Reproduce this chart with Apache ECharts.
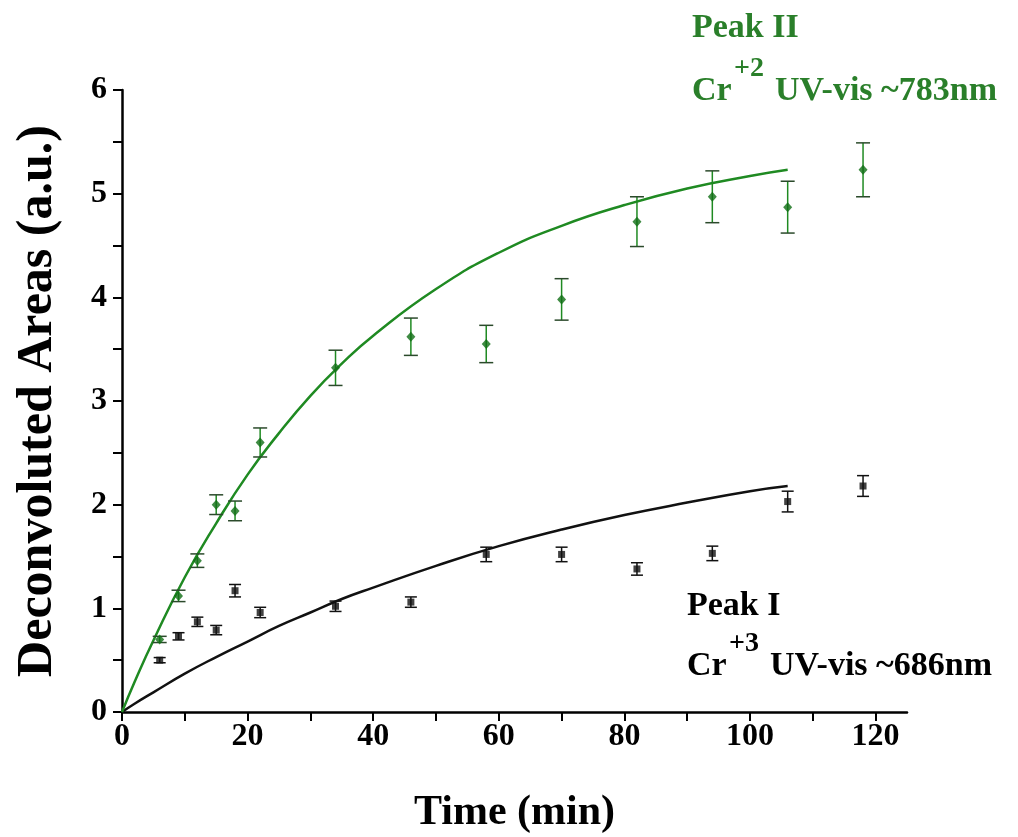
<!DOCTYPE html>
<html>
<head>
<meta charset="utf-8">
<script src="https://cdn.jsdelivr.net/npm/echarts@6/dist/echarts.min.js"></script>
<style>
html,body{margin:0;padding:0;background:#fff;}
#chart{width:1018px;height:837px;}
</style>
</head>
<body>
<div id="chart"></div>
<script>
// ---- data ----
var times = [6, 9, 12, 15, 18, 22, 34, 46, 58, 70, 82, 94, 106, 118];
var peakI = [0.50, 0.73, 0.87, 0.79, 1.17, 0.96, 1.02, 1.06, 1.52, 1.52, 1.38, 1.53, 2.03, 2.18];
var errI  = [0.025, 0.035, 0.045, 0.045, 0.06, 0.05, 0.05, 0.05, 0.07, 0.07, 0.06, 0.07, 0.10, 0.10];
var peakII = [0.70, 1.12, 1.46, 2.00, 1.94, 2.60, 3.32, 3.62, 3.55, 3.98, 4.73, 4.97, 4.87, 5.23];
var errII  = [0.03, 0.055, 0.065, 0.095, 0.095, 0.14, 0.17, 0.18, 0.18, 0.20, 0.24, 0.25, 0.25, 0.26];

var fitTimes = [0, 2, 5, 10, 15, 20, 25, 30, 35, 40, 50, 60, 70, 80, 90, 100, 106];
var fitI  = [0, 0.08, 0.19, 0.37, 0.53, 0.68, 0.83, 0.96, 1.09, 1.20, 1.41, 1.60, 1.76, 1.90, 2.02, 2.13, 2.18];
var fitII = [0, 0.29, 0.69, 1.30, 1.82, 2.29, 2.69, 3.05, 3.36, 3.63, 4.08, 4.43, 4.69, 4.89, 5.05, 5.17, 5.23];

var xLabelValues = [0, 20, 40, 60, 80, 100, 120];
var xTickValues = [0, 10, 20, 30, 40, 50, 60, 70, 80, 90, 100, 110, 120];
var yTickValues = [0, 0.5, 1, 1.5, 2, 2.5, 3, 3.5, 4, 4.5, 5, 5.5, 6];

var GREEN = '#1f8a22';
var GREEN_TXT = '#2a7f2a';
var BLACK = '#111111';
var FONT = '"Liberation Serif", "Times New Roman", serif';

function pairs(xs, ys) { return xs.map(function (x, i) { return [x, ys[i]]; }); }
function errData(xs, ys, es) { return xs.map(function (x, i) { return [x, ys[i] - es[i], ys[i] + es[i]]; }); }

function errRender(stemColor, capColor, half) {
  return function (params, api) {
    var x = api.value(0);
    var lo = api.coord([x, api.value(1)]);
    var hi = api.coord([x, api.value(2)]);
    var st = { stroke: stemColor, lineWidth: 1.5 };
    var cs = { stroke: capColor, lineWidth: 1.5 };
    return {
      type: 'group',
      children: [
        { type: 'line', shape: { x1: lo[0], y1: lo[1], x2: hi[0], y2: hi[1] }, style: st },
        { type: 'line', shape: { x1: lo[0] - half, y1: lo[1], x2: lo[0] + half, y2: lo[1] }, style: cs },
        { type: 'line', shape: { x1: hi[0] - half, y1: hi[1], x2: hi[0] + half, y2: hi[1] }, style: cs }
      ]
    };
  };
}

function txt(x, y, s, size, color) {
  return {
    type: 'text', x: x, y: y, silent: true,
    style: { text: s, fill: color, fontSize: size, fontWeight: 'bold', fontFamily: FONT,
             align: 'left', verticalAlign: 'middle' }
  };
}

var chart = echarts.init(document.getElementById('chart'), null, { renderer: 'canvas' });
chart.setOption({
  animation: false,
  backgroundColor: '#ffffff',
  grid: { left: 122, right: 111, top: 90, bottom: 125, containLabel: false, outerBoundsMode: 'none' },
  xAxis: {
    type: 'value', min: 0, max: 125,
    name: 'Time (min)', nameLocation: 'middle', nameGap: 80,
    nameTextStyle: { fontSize: 42, fontWeight: 'bold', fontFamily: FONT, color: '#000' },
    axisLine: { show: true, onZero: false, lineStyle: { color: '#000', width: 2.5 } },
    axisTick: { show: true, inside: false, length: 9, customValues: xTickValues, lineStyle: { color: '#000', width: 2 } },
    axisLabel: { customValues: xLabelValues, margin: 9, fontSize: 32, fontWeight: 'bold', fontFamily: FONT, color: '#000' },
    splitLine: { show: false }
  },
  yAxis: {
    type: 'value', min: 0, max: 6, interval: 1,
    name: 'Deconvoluted Areas (a.u.)', nameLocation: 'middle', nameGap: 59,
    nameTextStyle: { fontSize: 50, fontWeight: 'bold', fontFamily: FONT, color: '#000' },
    axisLine: { show: true, onZero: false, lineStyle: { color: '#000', width: 2.5 } },
    axisTick: { show: true, inside: false, length: 9, customValues: yTickValues, lineStyle: { color: '#000', width: 2 } },
    axisLabel: { margin: 15, fontSize: 32, fontWeight: 'bold', fontFamily: FONT, color: '#000' },
    splitLine: { show: false }
  },
  series: [
    { name: 'fitI', type: 'line', data: pairs(fitTimes, fitI), showSymbol: false, smooth: true,
      lineStyle: { color: BLACK, width: 2.5 }, z: 2 },
    { name: 'fitII', type: 'line', data: pairs(fitTimes, fitII), showSymbol: false, smooth: true,
      lineStyle: { color: GREEN, width: 2.5 }, z: 2 },
    { name: 'errI', type: 'custom', renderItem: errRender(BLACK, BLACK, 6), data: errData(times, peakI, errI), z: 3 },
    { name: 'errII', type: 'custom', renderItem: errRender(GREEN, '#2b4a2b', 7), data: errData(times, peakII, errII), z: 3 },
    { name: 'Peak I', type: 'scatter', data: pairs(times, peakI), symbol: 'rect', symbolSize: 7,
      itemStyle: { color: BLACK }, z: 4 },
    { name: 'Peak II', type: 'scatter', data: pairs(times, peakII), symbol: 'diamond', symbolSize: [9, 10],
      itemStyle: { color: '#0f6e14' }, z: 4 }
  ],
  graphic: [
    txt(692, 28, 'Peak II', 34, GREEN_TXT),
    txt(692, 91, 'Cr', 34, GREEN_TXT),
    txt(734, 69, '+2', 28, GREEN_TXT),
    txt(775, 91, 'UV-vis ~783nm', 34, GREEN_TXT),
    txt(687, 606, 'Peak I', 34, '#000'),
    txt(687, 666, 'Cr', 34, '#000'),
    txt(729, 644, '+3', 28, '#000'),
    txt(770, 666, 'UV-vis ~686nm', 34, '#000')
  ]
});
</script>
</body>
</html>
